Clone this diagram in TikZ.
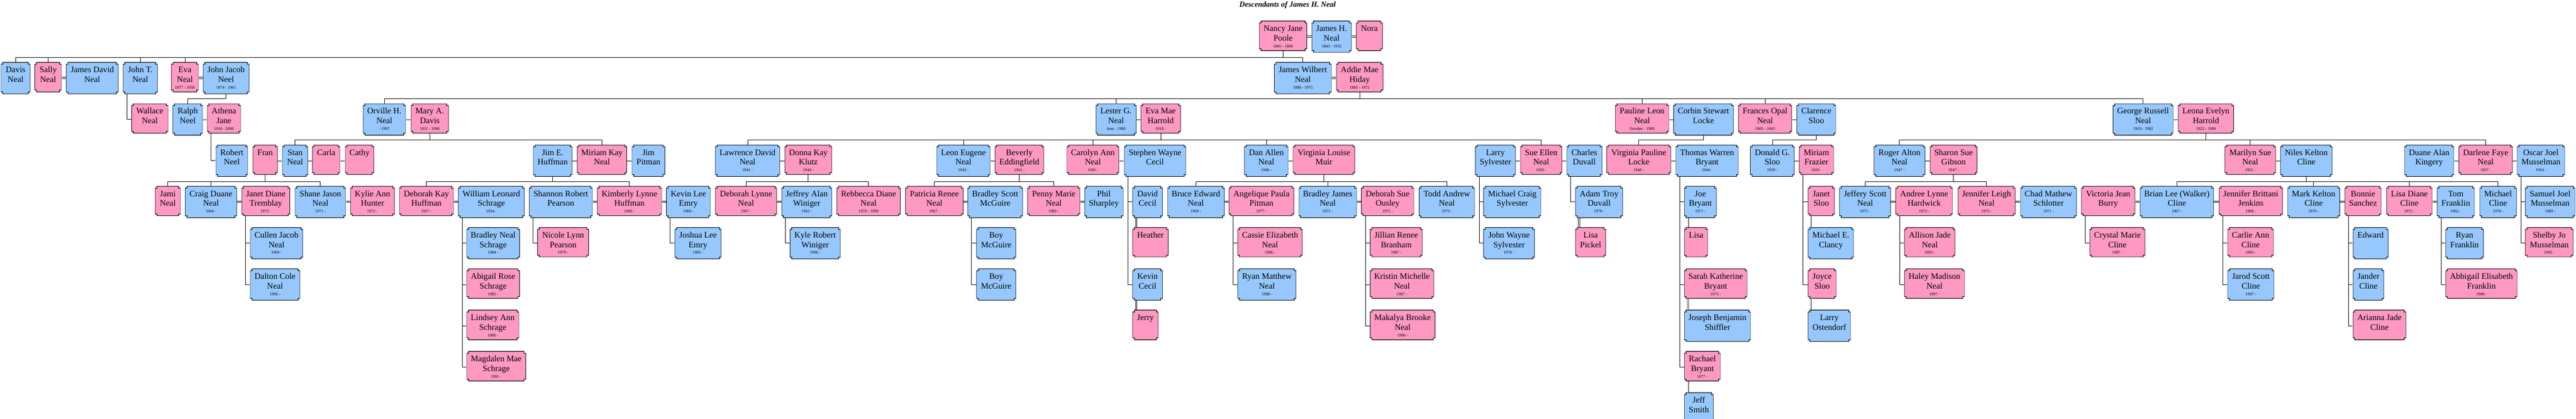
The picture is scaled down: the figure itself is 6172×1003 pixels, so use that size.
\documentclass[tikz,border=0pt]{standalone}
\usepackage{fontspec}
\setmainfont{Liberation Serif}
\usepackage{xcolor}
\usetikzlibrary{calc}

\definecolor{boyblue}{RGB}{150,200,255}
\definecolor{girlpink}{RGB}{255,153,194}
\newcommand\namefont{\fontsize{5.75pt}{6.6pt}\selectfont}
\newcommand\datefont{\fontsize{2.8pt}{3pt}\selectfont}
\def\boxh{7.55mm}
\newcommand\who[3]{\vbox to \boxh{\baselineskip=0pt\lineskip=0pt\lineskiplimit=-\maxdimen
  \kern2.45mm\hbox to 0pt{\hss\smash{#1}\hss}%
  \kern2.32mm\hbox to 0pt{\hss\smash{#2}\hss}%
  \kern1.59mm\hbox to 0pt{\hss\smash{\datefont #3}\hss}\vss}}
\newcommand\notchframe{%
  \fill[white] (path picture bounding box.north west) rectangle ++(4.5,4.5)
    (path picture bounding box.north east) rectangle ++(-4.5,4.5)
    (path picture bounding box.south west) rectangle ++(4.5,-4.5)
    (path picture bounding box.south east) rectangle ++(-4.5,-4.5);
  \draw[line width=0.15mm] ([yshift=-0.45mm]path picture bounding box.north west) -- ++(4.5,0) -- ++(0,-4.5)
    -- ([xshift=-0.45mm]path picture bounding box.north east) -- ++(0,4.5) -- ++(4.5,0)
    -- ([yshift=0.45mm]path picture bounding box.south east) -- ++(-4.5,0) -- ++(0,4.5)
    -- ([xshift=0.45mm]path picture bounding box.south west) -- ++(0,-4.5) -- ++(-4.5,0) -- cycle;}

\tikzset{
  person/.style={rectangle, inner sep=0pt, anchor=north, font=\namefont, path picture={\notchframe}},
  boy/.style={person, fill=boyblue, minimum height=7.55mm, execute at begin node={\def\boxh{7.55mm}}},
  girl/.style={person, fill=girlpink, minimum height=7.1mm, execute at begin node={\def\boxh{7.1mm}},
    append after command={[fill=black] ([xshift=0.9mm]\tikzlastnode.south west)
      rectangle ([xshift=-0.9mm,yshift=-0.6mm]\tikzlastnode.south east)}},
  wd/.style={minimum width=#1*0.1mm},
  spouse/.style={double, double distance=0.23mm, line width=0.1mm},
}

\begin{document}
\begin{tikzpicture}[x=0.1mm, y=-0.1mm, line width=0.1mm]
\useasboundingbox (0,0) rectangle (6172,1003);

\node[font=\fontsize{5.2pt}{6pt}\selectfont\bfseries\itshape] (title) at (3085,12) {Descendants of James H. Neal};

% generation 0
\node[girl, wd=114.4] (nancy) at (3074.2,49.9) {\who{Nancy Jane}{Poole}{1845 - 1896}};
\node[boy, wd=95.3] (jamesh) at (3190.45,49.9) {\who{James H.}{Neal}{1843 - 1935}};
\node[girl, wd=63] (nora) at (3281,49.9) {\who{Nora}{}{}};

% generation 1
\node[boy, wd=70.4] (davis) at (37.2,148.8) {\who{Davis}{Neal}{}};
\node[girl, wd=64.5] (sally) at (115.25,148.8) {\who{Sally}{Neal}{}};
\node[boy, wd=124.9] (jdavid) at (221.05,148.8) {\who{James David}{Neal}{}};
\node[boy, wd=83] (johnt) at (336.1,148.8) {\who{John T.}{Neal}{}};
\node[girl, wd=65.3] (eva) at (443.05,148.8) {\who{Eva}{Neal}{1877 - 1958}};
\node[boy, wd=110.6] (jjacob) at (541.7,148.8) {\who{John Jacob}{Neel}{1874 - 1961}};
\node[boy, wd=137.3] (wilbert) at (3121.55,148.8) {\who{James Wilbert}{Neal}{1886 - 1975}};
\node[girl, wd=112.1] (addie) at (3257.65,148.8) {\who{Addie Mae}{Hiday}{1885 - 1972}};

% generation 2
\node[girl, wd=88] (wallace) at (359,247.7) {\who{Wallace}{Neal}{}};
\node[boy, wd=71.6] (ralph) at (449.8,247.7) {\who{Ralph}{Neel}{}};
\node[girl, wd=81] (athena) at (536.5,247.7) {\who{Athena}{Jane}{1910 - 2000}};
\node[boy, wd=102.2] (orville) at (920.9,247.7) {\who{Orville H.}{Neal}{- 1997}};
\node[girl, wd=90.2] (marya) at (1029.7,247.7) {\who{Mary A.}{Davis}{1911 - 1996}};
\node[boy, wd=97.1] (lester) at (2673.95,247.7) {\who{Lester G.}{Neal}{June - 1980}};
\node[girl, wd=95.4] (evamae) at (2781,247.7) {\who{Eva Mae}{Harrold}{1918 -}};
\node[girl, wd=128.9] (pauline) at (3934.25,247.7) {\who{Pauline Leon}{Neal}{October - 1980}};
\node[boy, wd=143.8] (corbin) at (4081.4,247.7) {\who{Corbin Stewart}{Locke}{}};
\node[girl, wd=128.6] (frances) at (4229,247.7) {\who{Frances Opal}{Neal}{1905 - 1963}};
\node[boy, wd=93.7] (clarence) at (4351.75,247.7) {\who{Clarence}{Sloo}{}};
\node[boy, wd=144.8] (george) at (5134.8,247.7) {\who{George Russell}{Neal}{1919 - 1982}};
\node[girl, wd=133.4] (leona) at (5285.3,247.7) {\who{Leona Evelyn}{Harrold}{1922 - 1989}};

% generation 3
\node[boy, wd=77] (robert) at (555.5,346.6) {\who{Robert}{Neel}{}};
\node[girl, wd=59.2] (fran) at (635.3,346.6) {\who{Fran}{}{}};
\node[boy, wd=61.5] (stan) at (707.05,346.6) {\who{Stan}{Neal}{}};
\node[girl, wd=67] (carla) at (781.5,346.6) {\who{Carla}{}{}};
\node[girl, wd=69.4] (cathy) at (861.5,346.6) {\who{Cathy}{}{}};
\node[boy, wd=93.6] (jime) at (1324.2,346.6) {\who{Jim E.}{Huffman}{}};
\node[girl, wd=119.5] (miriamk) at (1442.25,346.6) {\who{Miriam Kay}{Neal}{}};
\node[boy, wd=79.3] (pitman) at (1553.65,346.6) {\who{Jim}{Pitman}{}};
\node[boy, wd=154.7] (lawrence) at (1791.15,346.6) {\who{Lawrence David}{Neal}{1941 -}};
\node[girl, wd=113.2] (donna) at (1936.6,346.6) {\who{Donna Kay}{Klutz}{1944 -}};
\node[boy, wd=128.9] (leon) at (2308.25,346.6) {\who{Leon Eugene}{Neal}{1943 -}};
\node[girl, wd=117.8] (beverly) at (2442.4,346.6) {\who{Beverly}{Eddingfield}{1941 -}};
\node[girl, wd=125.3] (carolyn) at (2618.55,346.6) {\who{Carolyn Ann}{Neal}{1945 -}};
\node[boy, wd=148.6] (stephen) at (2767.5,346.6) {\who{Stephen Wayne}{Cecil}{}};
\node[boy, wd=105] (dan) at (3034,346.6) {\who{Dan Allen}{Neal}{1946 -}};
\node[girl, wd=148.7] (virginia) at (3172.15,346.6) {\who{Virginia Louise}{Muir}{}};
\node[boy, wd=96.6] (larry) at (3582.9,346.6) {\who{Larry}{Sylvester}{}};
\node[girl, wd=100.2] (sueellen) at (3692.6,346.6) {\who{Sue Ellen}{Neal}{1950 -}};
\node[boy, wd=85.1] (charles) at (3796.05,346.6) {\who{Charles}{Duvall}{}};
\node[girl, wd=154.1] (vpauline) at (3926.45,346.6) {\who{Virginia Pauline}{Locke}{1948 -}};
\node[boy, wd=150.4] (thomas) at (4090.1,346.6) {\who{Thomas Warren}{Bryant}{1944 -}};
\node[boy, wd=105.9] (donald) at (4246.45,346.6) {\who{Donald G.}{Sloo}{1929 -}};
\node[girl, wd=83.3] (miriamf) at (4352.05,346.6) {\who{Miriam}{Frazier}{1929 -}};
\node[boy, wd=122.5] (roger) at (4551.05,346.6) {\who{Roger Alton}{Neal}{1947 -}};
\node[girl, wd=113.3] (sharon) at (4680.65,346.6) {\who{Sharon Sue}{Gibson}{1947 -}};
\node[girl, wd=122.1] (marilyn) at (5391.55,346.6) {\who{Marilyn Sue}{Neal}{1952 -}};
\node[boy, wd=124.6] (niles) at (5525.7,346.6) {\who{Niles Kelton}{Cline}{}};
\node[boy, wd=118.9] (duane) at (5820.05,346.6) {\who{Duane Alan}{Kingery}{}};
\node[girl, wd=129] (darlene) at (5955.5,346.6) {\who{Darlene Faye}{Neal}{1957 -}};
\node[boy, wd=114.5] (oscar) at (6087.95,346.6) {\who{Oscar Joel}{Musselman}{1954 -}};

% generation 4
\node[girl, wd=60.9] (jami) at (402.15,445.5) {\who{Jami}{Neal}{}};
\node[boy, wd=123.7] (craig) at (505.55,445.5) {\who{Craig Duane}{Neal}{1964 -}};
\node[girl, wd=115.7] (janetd) at (636.85,445.5) {\who{Janet Diane}{Tremblay}{1972 -}};
\node[boy, wd=121.7] (shane) at (767.65,445.5) {\who{Shane Jason}{Neal}{1971 -}};
\node[girl, wd=106.2] (kylie) at (892.5,445.5) {\who{Kylie Ann}{Hunter}{1972 -}};
\node[girl, wd=130.3] (deborahk) at (1021.65,445.5) {\who{Deborah Kay}{Huffman}{1957 -}};
\node[boy, wd=159] (william) at (1177.2,445.5) {\who{William Leonard}{Schrage}{1954 -}};
\node[boy, wd=152.2] (shannon) at (1343.7,445.5) {\who{Shannon Robert}{Pearson}{}};
\node[girl, wd=154.8] (kimberly) at (1508.1,445.5) {\who{Kimberly Lynne}{Huffman}{1960 -}};
\node[boy, wd=106.1] (kevin) at (1649.35,445.5) {\who{Kevin Lee}{Emry}{1960 -}};
\node[girl, wd=147.5] (deborahl) at (1787.55,445.5) {\who{Deborah Lynne}{Neal}{1967 -}};
\node[boy, wd=120.5] (jeffrey) at (1932.95,445.5) {\who{Jeffrey Alan}{Winiger}{1962 -}};
\node[girl, wd=152.9] (rebbecca) at (2081.05,445.5) {\who{Rebbecca Diane}{Neal}{1970 - 1990}};
\node[girl, wd=138.6] (patricia) at (2238.7,445.5) {\who{Patricia Renee}{Neal}{1967 -}};
\node[boy, wd=132.3] (bradleys) at (2384.45,445.5) {\who{Bradley Scott}{McGuire}{}};
\node[girl, wd=125.8] (penny) at (2524.7,445.5) {\who{Penny Marie}{Neal}{1969 -}};
\node[boy, wd=93] (phil) at (2644.9,445.5) {\who{Phil}{Sharpley}{}};
\node[boy, wd=72] (david) at (2749.5,445.5) {\who{David}{Cecil}{}};
\node[boy, wd=136.7] (bruce) at (2865.25,445.5) {\who{Bruce Edward}{Neal}{1969 -}};
\node[girl, wd=155.8] (angelique) at (3022.3,445.5) {\who{Angelique Paula}{Pitman}{1977 -}};
\node[boy, wd=139.1] (bradleyj) at (3181.15,445.5) {\who{Bradley James}{Neal}{1971 -}};
\node[girl, wd=126.2] (deborahs) at (3324.6,445.5) {\who{Deborah Sue}{Ousley}{1971 -}};
\node[boy, wd=133.7] (todd) at (3466.55,445.5) {\who{Todd Andrew}{Neal}{1973 -}};
\node[boy, wd=137.9] (michaelc) at (3623.35,445.5) {\who{Michael Craig}{Sylvester}{}};
\node[boy, wd=113.9] (adam) at (3831.35,445.5) {\who{Adam Troy}{Duvall}{1978 -}};
\node[boy, wd=77.3] (joe) at (4073.95,445.5) {\who{Joe}{Bryant}{1971 -}};
\node[girl, wd=63.6] (janets) at (4363.7,445.5) {\who{Janet}{Sloo}{}};
\node[boy, wd=123.1] (jeffery) at (4468.75,445.5) {\who{Jeffery Scott}{Neal}{1971 -}};
\node[girl, wd=136.6] (andree) at (4610.2,445.5) {\who{Andree Lynne}{Hardwick}{1973 -}};
\node[girl, wd=137.8] (jenniferl) at (4759.6,445.5) {\who{Jennifer Leigh}{Neal}{1973 -}};
\node[boy, wd=134.7] (chad) at (4908.05,445.5) {\who{Chad Mathew}{Schlotter}{1971 -}};
\node[girl, wd=129.2] (victoria) at (5051.1,445.5) {\who{Victoria Jean}{Burry}{}};
\node[boy, wd=176.7] (brian) at (5215.65,445.5) {\who{Brian Lee (Walker)}{Cline}{1967 -}};
\node[girl, wd=152.4] (jenniferb) at (5392.8,445.5) {\who{Jennifer Brittani}{Jenkins}{1968 -}};
\node[boy, wd=125.9] (mark) at (5543.35,445.5) {\who{Mark Kelton}{Cline}{1970 -}};
\node[girl, wd=87.9] (bonnie) at (5661.65,445.5) {\who{Bonnie}{Sanchez}{}};
\node[girl, wd=110.1] (lisad) at (5772.65,445.5) {\who{Lisa Diane}{Cline}{1972 -}};
\node[boy, wd=89.9] (tom) at (5883.95,445.5) {\who{Tom}{Franklin}{1962 -}};
\node[boy, wd=88.6] (michaelcl) at (5985.2,445.5) {\who{Michael}{Cline}{1978 -}};
\node[boy, wd=119.6] (samuel) at (6110.1,445.5) {\who{Samuel Joel}{Musselman}{1989 -}};

% generation 5
\node[boy, wd=126.3] (cullen) at (662.55,544.4) {\who{Cullen Jacob}{Neal}{1994 -}};
\node[boy, wd=127.4] (bradleyn) at (1181.5,544.4) {\who{Bradley Neal}{Schrage}{1984 -}};
\node[girl, wd=122.9] (nicole) at (1349.15,544.4) {\who{Nicole Lynn}{Pearson}{1979 -}};
\node[boy, wd=111.5] (joshua) at (1672.45,544.4) {\who{Joshua Lee}{Emry}{1985 -}};
\node[boy, wd=121.1] (kyle) at (1953.05,544.4) {\who{Kyle Robert}{Winiger}{1996 -}};
\node[boy, wd=94.8] (boy1) at (2386.9,544.4) {\who{Boy}{McGuire}{}};
\node[girl, wd=85.8] (heather) at (2756.4,544.4) {\who{Heather}{}{}};
\node[girl, wd=155.2] (cassie) at (3043,544.4) {\who{Cassie Elizabeth}{Neal}{1996 -}};
\node[girl, wd=125.5] (jillian) at (3345.25,544.4) {\who{Jillian Renee}{Branham}{1987 -}};
\node[boy, wd=122.3] (johnw) at (3615.55,544.4) {\who{John Wayne}{Sylvester}{1970 -}};
\node[girl, wd=73.2] (lisap) at (3811,544.4) {\who{Lisa}{Pickel}{}};
\node[girl, wd=56.9] (lisa) at (4063.75,544.4) {\who{Lisa}{}{}};
\node[boy, wd=109.6] (clancy) at (4386.7,544.4) {\who{Michael E.}{Clancy}{}};
\node[girl, wd=121.9] (allison) at (4623.65,544.4) {\who{Allison Jade}{Neal}{1993 -}};
\node[girl, wd=132.9] (crystal) at (5073.15,544.4) {\who{Crystal Marie}{Cline}{1987 -}};
\node[girl, wd=110.7] (carlie) at (5392.25,544.4) {\who{Carlie Ann}{Cline}{1995 -}};
\node[boy, wd=84.7] (edward) at (5679.65,544.4) {\who{Edward}{}{}};
\node[boy, wd=91.1] (ryan) at (5904.85,544.4) {\who{Ryan}{Franklin}{}};
\node[girl, wd=115.1] (shelby) at (6107.85,544.4) {\who{Shelby Jo}{Musselman}{1992 -}};

% generation 6
\node[boy, wd=119.4] (dalton) at (659.1,643.3) {\who{Dalton Cole}{Neal}{1996 -}};
\node[girl, wd=127.4] (abigail) at (1181.5,643.3) {\who{Abigail Rose}{Schrage}{1985 -}};
\node[boy, wd=94.8] (boy2) at (2386.9,643.3) {\who{Boy}{McGuire}{}};
\node[boy, wd=72] (kevinc) at (2749.5,643.3) {\who{Kevin}{Cecil}{}};
\node[boy, wd=140.2] (ryanm) at (3035.5,643.3) {\who{Ryan Matthew}{Neal}{1998 -}};
\node[girl, wd=153.2] (kristin) at (3359.1,643.3) {\who{Kristin Michelle}{Neal}{1987 -}};
\node[girl, wd=151] (sarah) at (4110.8,643.3) {\who{Sarah Katherine}{Bryant}{1973 -}};
\node[girl, wd=67.9] (joyce) at (4365.85,643.3) {\who{Joyce}{Sloo}{}};
\node[girl, wd=144.5] (haley) at (4634.95,643.3) {\who{Haley Madison}{Neal}{1997 -}};
\node[boy, wd=111.9] (jarod) at (5392.85,643.3) {\who{Jarod Scott}{Cline}{1997 -}};
\node[boy, wd=74.6] (jander) at (5674.6,643.3) {\who{Jander}{Cline}{}};
\node[girl, wd=172.1] (abbigail) at (5945.35,643.3) {\who{Abbigail Elisabeth}{Franklin}{1998 -}};

% generation 7 and below
\node[girl, wd=125.7] (lindsey) at (1180.65,742.2) {\who{Lindsey Ann}{Schrage}{1988 -}};
\node[girl, wd=61.8] (jerry) at (2744.4,742.2) {\who{Jerry}{}{}};
\node[girl, wd=156.2] (makalya) at (3360.6,742.2) {\who{Makalya Brooke}{Neal}{1996 -}};
\node[boy, wd=159.4] (joseph) at (4115,742.2) {\who{Joseph Benjamin}{Shiffler}{}};
\node[boy, wd=102.2] (larryo) at (4383,742.2) {\who{Larry}{Ostendorf}{}};
\node[girl, wd=127.7] (arianna) at (5701.15,742.2) {\who{Arianna Jade}{Cline}{}};
\node[girl, wd=142.2] (magdalen) at (1188.9,841.1) {\who{Magdalen Mae}{Schrage}{1991 -}};
\node[girl, wd=86.9] (rachael) at (4078.75,841.1) {\who{Rachael}{Bryant}{1977 -}};
\node[boy, wd=70.1] (jeff) at (4070.35,940) {\who{Jeff}{Smith}{}};

% marriages side by side
\foreach \a/\b in {nancy/jamesh, jamesh/nora, sally/jdavid, eva/jjacob, wilbert/addie,
    ralph/athena, orville/marya, lester/evamae, pauline/corbin, frances/clarence, george/leona,
    fran/stan, stan/carla, carla/cathy, jime/miriamk, miriamk/pitman, lawrence/donna, leon/beverly,
    carolyn/stephen, dan/virginia, larry/sueellen, sueellen/charles, vpauline/thomas, donald/miriamf,
    roger/sharon, marilyn/niles, duane/darlene, darlene/oscar, craig/janetd, shane/kylie,
    deborahk/william, shannon/kimberly, kimberly/kevin, deborahl/jeffrey, patricia/bradleys,
    penny/phil, bruce/angelique, bradleyj/deborahs, jeffery/andree, jenniferl/chad,
    victoria/brian, brian/jenniferb, mark/bonnie, lisad/tom}
    \draw[spouse] ([yshift=-3.775mm]\a.north east) -- ([yshift=-3.775mm]\b.north west);

% marriages stacked
\foreach \a/\b in {david/heather, kevinc/jerry, adam/lisap, joe/lisa, sarah/joseph,
    rachael/jeff, janets/clancy, joyce/larryo}
    \draw[spouse] ([xshift=0.95mm]\a.south west) -- ([xshift=0.95mm]\b.north west);

% children in a row
\foreach \mom/\kid in {nancy/davis, nancy/sally, nancy/johnt, nancy/eva, nancy/wilbert,
    jjacob/ralph, addie/orville, addie/lester, addie/pauline, addie/frances, addie/george,
    marya/stan, marya/miriamk, evamae/lawrence, evamae/leon, evamae/carolyn, evamae/dan,
    evamae/sueellen, corbin/vpauline, clarence/donald, leona/roger, leona/marilyn, leona/darlene,
    fran/jami, fran/craig, fran/shane, jime/deborahk, jime/kimberly, donna/deborahl,
    donna/rebbecca, beverly/patricia, beverly/penny, virginia/bruce, virginia/bradleyj,
    virginia/todd, sharon/jeffery, sharon/jenniferl, niles/brian, niles/mark, niles/lisad,
    niles/michaelcl}
    \draw (\mom.south) |- ([yshift=1.1mm]\kid.north) -- (\kid.north);

% children in a column
\foreach \mom/\kid in {johnt/wallace, athena/robert, janetd/cullen, janetd/dalton,
    william/bradleyn, william/abigail, william/lindsey, william/magdalen, shannon/nicole,
    kevin/joshua, jeffrey/kyle, bradleys/boy1, bradleys/boy2, stephen/david, stephen/kevinc,
    angelique/cassie, angelique/ryanm, deborahs/jillian, deborahs/kristin, deborahs/makalya,
    larry/michaelc, larry/johnw, charles/adam, thomas/joe, thomas/sarah, thomas/rachael,
    miriamf/janets, miriamf/joyce, andree/allison, andree/haley, victoria/crystal,
    jenniferb/carlie, jenniferb/jarod, bonnie/edward, bonnie/jander, bonnie/arianna,
    tom/ryan, tom/abbigail, oscar/samuel, oscar/shelby}
    \draw ([xshift=1mm]\mom.south west) |- ([yshift=-3.8mm]\kid.north west);
%
\end{tikzpicture}
\end{document}
